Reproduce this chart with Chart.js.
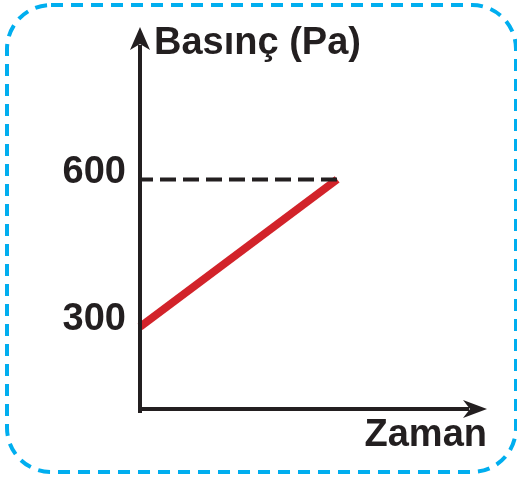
<!DOCTYPE html>
<html>
<head>
<meta charset="utf-8">
<script src="https://cdn.jsdelivr.net/npm/chart.js@4"></script>
<style>
  body { margin: 0; background: #fff; }
</style>
</head>
<body>
<canvas id="myChart" width="517" height="479"></canvas>
<script>
// values
const times = [0, 10];
const pressure = [300, 600];
const refLevel = [600, 600];
const tickValues = [300, 600];
const yTitle = 'Basınç (Pa)';
const xTitle = 'Zaman';

const ink = '#231f20';
const boldFont = { family: '"Liberation Sans", Arial, sans-serif', size: 38, weight: 'bold' };

// frame, arrows and the y title
const decor = {
    id: 'decor',
    beforeDraw(chart) {
        const c = chart.ctx;
        c.save();
        c.strokeStyle = '#00aeef';
        c.lineWidth = 4;
        c.setLineDash([12, 8]);
        c.beginPath();
        c.roundRect(7, 5, 509, 467, 44);
        c.stroke();
        c.restore();
    },
    afterDatasetsDraw(chart) {
        const c = chart.ctx;
        const a = chart.chartArea;
        const x0 = a.left, y0 = a.bottom;
        c.save();
        c.strokeStyle = ink;
        c.fillStyle = ink;
        c.lineWidth = 4;
        c.setLineDash([]);
        // y axis
        c.beginPath();
        c.moveTo(x0, y0 + 4);
        c.lineTo(x0, a.top + 18);
        c.stroke();
        c.beginPath();
        c.moveTo(x0, a.top);
        c.lineTo(x0 - 10, a.top + 23);
        c.lineTo(x0, a.top + 17);
        c.lineTo(x0 + 10, a.top + 23);
        c.closePath();
        c.fill();
        // x axis
        c.beginPath();
        c.moveTo(x0 - 2, y0);
        c.lineTo(a.right - 18, y0);
        c.stroke();
        c.beginPath();
        c.moveTo(a.right, y0);
        c.lineTo(a.right - 24, y0 - 9);
        c.lineTo(a.right - 17, y0);
        c.lineTo(a.right - 24, y0 + 9);
        c.closePath();
        c.fill();
        // y title
        c.font = 'bold 38px "Liberation Sans", Arial, sans-serif';
        c.textAlign = 'left';
        c.textBaseline = 'alphabetic';
        c.fillText(yTitle, x0 + 14, 54);
        c.restore();
    }
};

const ctx = document.getElementById('myChart').getContext('2d');
const myChart = new Chart(ctx, {
    type: 'line',
    data: {
        datasets: [{
            label: 'ref',
            data: times.map((t, i) => ({ x: t, y: refLevel[i] })),
            borderColor: ink,
            borderWidth: 4,
            borderDash: [16, 7],
            borderDashOffset: 3,
            pointRadius: 0,
            clip: false
        }, {
            label: 'pressure',
            data: times.map((t, i) => ({ x: t, y: pressure[i] })),
            borderColor: '#d2232a',
            borderWidth: 8,
            borderCapStyle: 'butt',
            pointRadius: 0,
            clip: false
        }]
    },
    options: {
        responsive: false,
        animation: false,
        layout: { padding: { top: 27, right: 30, left: 0, bottom: 0 } },
        scales: {
            x: {
                type: 'linear',
                min: 0,
                max: 17.6,
                grid: { display: false },
                border: { display: false },
                ticks: { display: false },
                title: {
                    display: true,
                    text: xTitle,
                    align: 'end',
                    color: ink,
                    font: boldFont,
                    padding: { top: 0, bottom: 21 }
                },
                afterFit(scale) {
                    scale.height = 70;
                    scale.paddingLeft = 0;
                    scale.paddingRight = 0;
                }
            },
            y: {
                min: 133,
                max: 910,
                grid: { display: false, drawTicks: false },
                border: { display: false },
                afterBuildTicks(scale) {
                    scale.ticks = tickValues.map(v => ({ value: v }));
                },
                ticks: {
                    color: ink,
                    font: boldFont,
                    padding: 14,
                    labelOffset: -7
                },
                afterFit(scale) {
                    scale.width = 140;
                    scale.paddingTop = 0;
                    scale.paddingBottom = 0;
                }
            }
        },
        plugins: {
            legend: { display: false },
            tooltip: { enabled: false }
        }
    },
    plugins: [decor]
});
</script>
</body>
</html>
